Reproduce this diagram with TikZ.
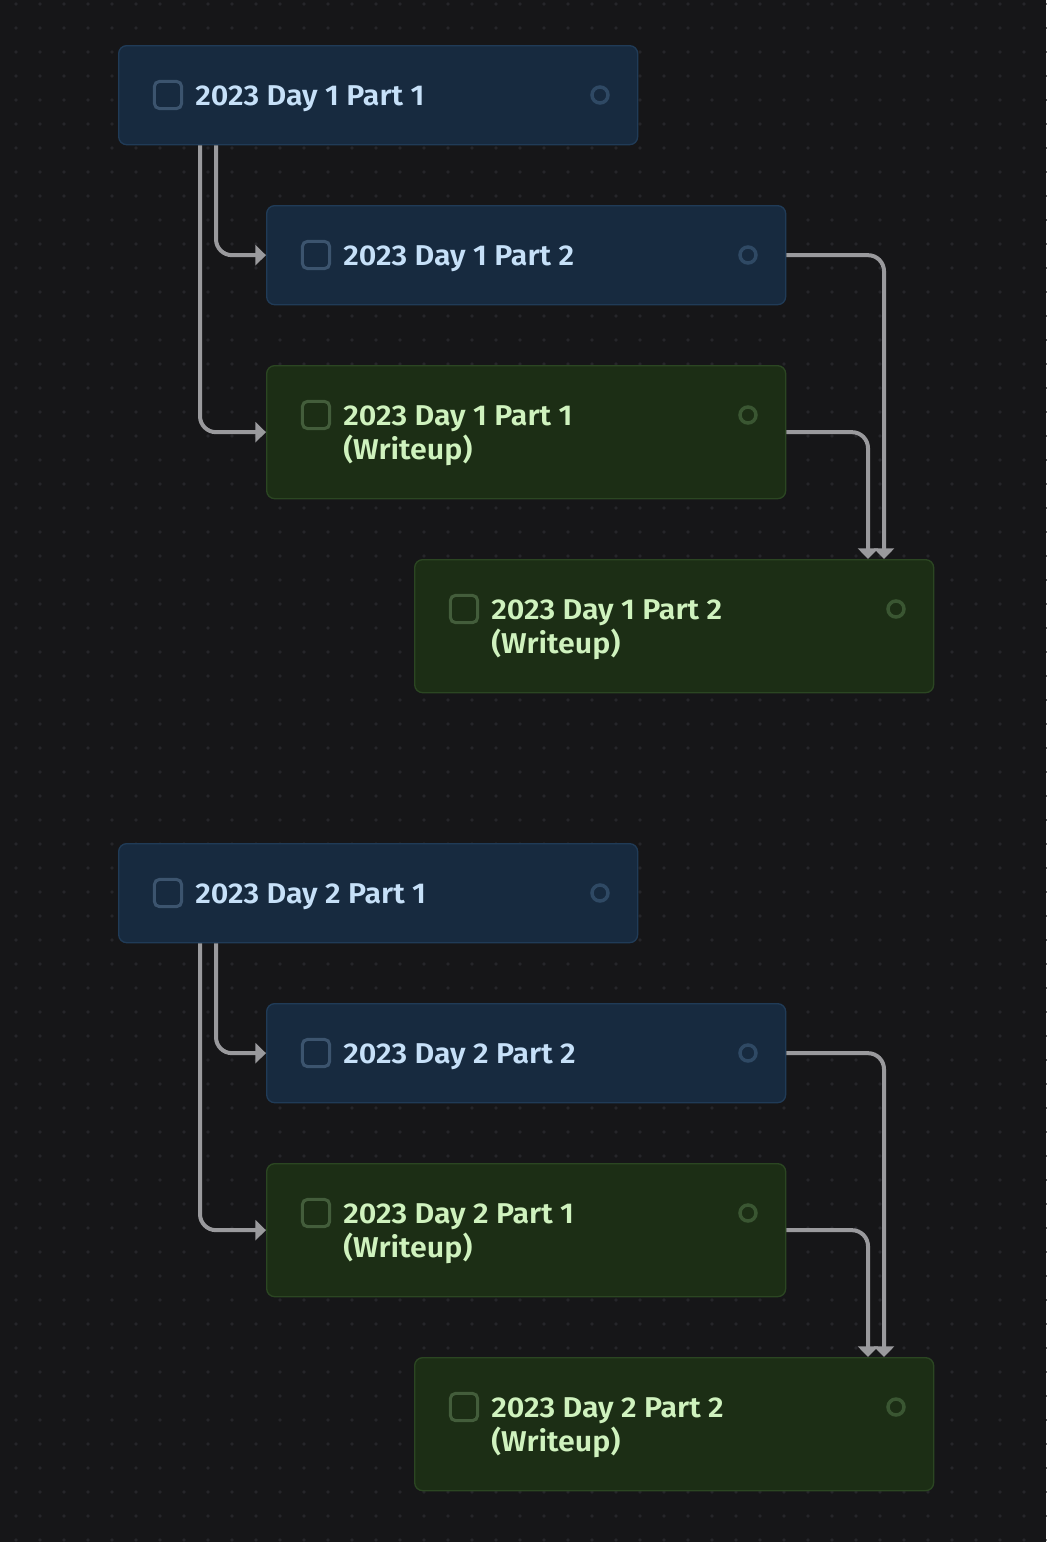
\documentclass[tikz,border=0pt]{standalone}
\usepackage{fontspec}
\newfontfamily\lblfont{Fira Sans SemiBold}[FakeStretch=1.06]
\usetikzlibrary{calc,arrows.meta}
\definecolor{bgc}{HTML}{161618}
\definecolor{dotc}{HTML}{26262A}
\definecolor{bfill}{HTML}{172A3F}
\definecolor{bdraw}{HTML}{203B57}
\definecolor{bchk}{HTML}{3C546E}
\definecolor{bring}{HTML}{2F4964}
\definecolor{btext}{HTML}{C6E0F8}
\definecolor{gfill}{HTML}{1C2E15}
\definecolor{gdraw}{HTML}{2B4622}
\definecolor{gchk}{HTML}{435D3B}
\definecolor{gring}{HTML}{3A5632}
\definecolor{gtext}{HTML}{CFF2BE}
\definecolor{edgec}{HTML}{9A9A9D}
\tikzset{
  cardb/.style={draw=bdraw,fill=bfill,line width=1pt,rounded corners=6pt,minimum width=389.25pt,inner sep=0pt},
  cardg/.style={draw=gdraw,fill=gfill,line width=1pt,rounded corners=6pt,minimum width=389.25pt,inner sep=0pt},
  chkb/.style={draw=bchk,line width=2.3pt,rounded corners=4pt,minimum size=20.5pt,inner sep=0pt},
  chkg/.style={draw=gchk,line width=2.3pt,rounded corners=4pt,minimum size=20.5pt,inner sep=0pt},
  ringb/.style={circle,draw=bring,line width=2.6pt,minimum size=12pt,inner sep=0pt},
  ringg/.style={circle,draw=gring,line width=2.6pt,minimum size=12pt,inner sep=0pt},
  txtb/.style={text=btext,font=\lblfont\fontsize{21.5pt}{25pt}\selectfont,inner sep=0pt,anchor=base west},
  txtg/.style={text=gtext,font=\lblfont\fontsize{21.5pt}{25pt}\selectfont,inner sep=0pt,anchor=base west},
  link/.style={draw=edgec,line width=3pt,rounded corners=12pt,-{Triangle[length=8pt,width=15pt]}},
}
\newcommand\cardbase[5]{%
  \node[card#5,minimum height=#4,anchor=north west] (#1) at (#2,#3) {};
  \node[chk#5] (#1-c) at (#2+50,#3+50) {};
  \node[ring#5] (#1-r) at (#2+482,#3+50) {};
}
\begin{document}
\begin{tikzpicture}[x=0.75pt,y=-0.75pt]
\fill[bgc] (0,0) rectangle (1046,1542);
\useasboundingbox (0,0) rectangle (1046,1542);
\foreach \i in {0,...,43}{\foreach \j in {0,...,64}{\fill[dotc] (16+24*\i,4+24*\j) circle (1.4pt);}}
% group 1
\cardbase{A1}{118}{45}{74.25pt}{b}
\node[txtb] (A1-t1) at (118+77,45+60) {2023 Day 1 Part 1};
\cardbase{A2}{266}{205}{74.25pt}{b}
\node[txtb] (A2-t1) at (266+77,205+60) {2023 Day 1 Part 2};
\cardbase{A3}{266}{365}{99.75pt}{g}
\node[txtg] (A3-t1) at (266+77,365+60) {2023 Day 1 Part 1};
\node[txtg] (A3-t2) at (266+77,365+94) {(Writeup)};
\cardbase{A4}{414}{559}{99.75pt}{g}
\node[txtg] (A4-t1) at (414+77,559+60) {2023 Day 1 Part 2};
\node[txtg] (A4-t2) at (414+77,559+94) {(Writeup)};
% group 2
\cardbase{B1}{118}{843}{74.25pt}{b}
\node[txtb] (B1-t1) at (118+77,843+60) {2023 Day 2 Part 1};
\cardbase{B2}{266}{1003}{74.25pt}{b}
\node[txtb] (B2-t1) at (266+77,1003+60) {2023 Day 2 Part 2};
\cardbase{B3}{266}{1163}{99.75pt}{g}
\node[txtg] (B3-t1) at (266+77,1163+60) {2023 Day 2 Part 1};
\node[txtg] (B3-t2) at (266+77,1163+94) {(Writeup)};
\cardbase{B4}{414}{1357}{99.75pt}{g}
\node[txtg] (B4-t1) at (414+77,1357+60) {2023 Day 2 Part 2};
\node[txtg] (B4-t2) at (414+77,1357+94) {(Writeup)};
% connectors
\foreach \g in {A,B}{
  \draw[link] ($(\g1.south west)+(98,0)$) |- (\g2.west);
  \draw[link] ($(\g1.south west)+(82,0)$) |- (\g3.west);
  \draw[link] (\g2.east) -| ($(\g4.north west)+(470,0)$);
  \draw[link] (\g3.east) -| ($(\g4.north west)+(454,0)$);
}
\end{tikzpicture}
\end{document}
